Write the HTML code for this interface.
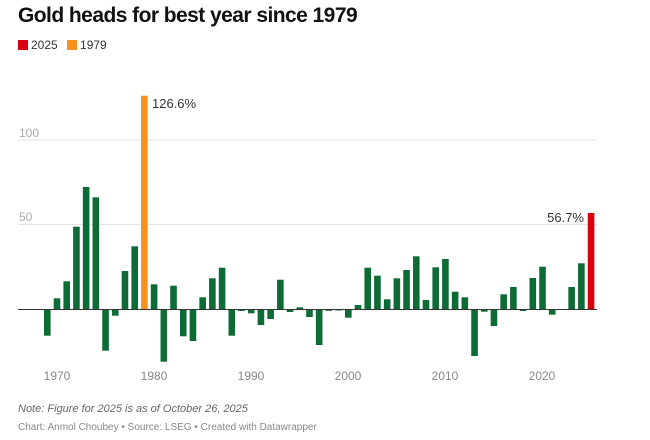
<!DOCTYPE html>
<html><head><meta charset="utf-8"><style>
body{margin:0;width:650px;height:440px;background:#fff;font-family:"Liberation Sans",sans-serif;overflow:hidden;position:relative}
.t{position:absolute;white-space:nowrap}
</style></head><body>
<div class="t" style="left:18px;top:4px;font-size:21px;font-weight:bold;color:#111;letter-spacing:-0.55px">Gold heads for best year since 1979</div>
<div class="t" style="left:18px;top:38px;font-size:12px;color:#333"><span style="display:inline-block;width:10px;height:10px;background:#d7000f;vertical-align:-1px;margin-right:3px"></span>2025 <span style="display:inline-block;width:10px;height:10px;background:#f7901e;vertical-align:-1px;margin:0 3px 0 6px"></span>1979</div>
<svg width="650" height="440" style="position:absolute;left:0;top:0" xmlns="http://www.w3.org/2000/svg" font-family="Liberation Sans, sans-serif">
<line x1="18" x2="597" y1="140" y2="140" stroke="#e3e3e3"/>
<line x1="18" x2="597" y1="224.5" y2="224.5" stroke="#e3e3e3"/>
<text x="19" y="137" font-size="12" fill="#aaa">100</text>
<text x="19" y="221" font-size="12" fill="#aaa">50</text>
<g id="bars"></g>
<line x1="18" x2="597" y1="309.5" y2="309.5" stroke="#333"/>
<g font-size="12" fill="#888" text-anchor="middle">
<text x="57" y="380">1970</text><text x="154" y="380">1980</text><text x="251" y="380">1990</text><text x="348" y="380">2000</text><text x="445" y="380">2010</text><text x="542" y="380">2020</text>
</g>
<text x="152" y="108" font-size="13" fill="#333">126.6%</text>
<text x="584" y="222" font-size="13" fill="#333" text-anchor="end">56.7%</text>
</svg>
<div class="t" style="left:18px;top:403px;font-size:11px;font-style:italic;color:#666">Note: Figure for 2025 is as of October 26, 2025</div>
<div class="t" style="left:18px;top:422px;font-size:10px;color:#888">Chart: Anmol Choubey • Source: LSEG • Created with Datawrapper</div>
<script>
var v=[335.7,298.3,281.3,226.7,187,197.3,350.7,315.7,271,246.3,95.7,284.3,361.7,285.7,336.3,341,297.3,278.3,267.7,335.7,311,313.3,325,319,279.7,312,307.3,317,345,310.8,310.5,317.7,305,267.7,275.7,299.3,278.3,270,256.3,300,267.3,259,291.7,297.3,356,311.7,326,294.3,287,311,278,266.7,314.7,309,287,263.3,213];
var g=document.getElementById('bars'),s='',b=309.5;
v.forEach(function(y,i){var yr=1969+i,x=44+i*9.71,c=yr==1979?'#f7901e':yr==2025?'#d7000f':'#0d6b35';
var t=Math.min(y,b),h=Math.abs(y-b);s+='<rect x="'+x+'" y="'+t+'" width="6.6" height="'+h+'" fill="'+c+'"/>';});
g.innerHTML=s;
</script>
</body></html>
